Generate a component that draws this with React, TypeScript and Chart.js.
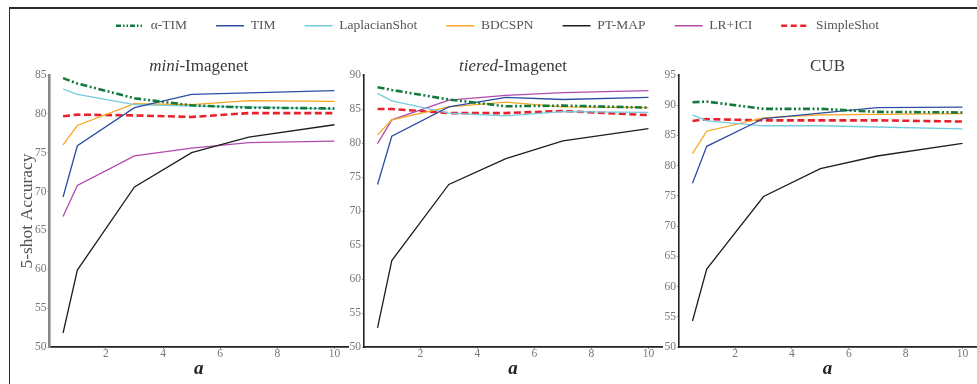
import React, { useEffect, useRef } from "react";
import { Chart, registerables } from "chart.js";

Chart.register(...registerables);

// ---------- data ----------
const alphaValues = [0.5, 1, 3, 5, 7, 10];
const methodNames = ["α-TIM", "TIM", "LaplacianShot", "BDCSPN", "PT-MAP", "LR+ICI", "SimpleShot"];

// mini-Imagenet
const miniAlphaTIM = [84.6, 83.9, 82.0, 81.1, 80.8, 80.7];
const miniTIM = [69.3, 75.9, 80.8, 82.5, 82.7, 83.0];
const miniLaplacian = [83.2, 82.5, 81.2, 81.0, 80.9, 80.6];
const miniBDCSPN = [76.0, 78.5, 81.3, 81.2, 81.7, 81.6];
const miniPTMAP = [51.8, 59.9, 70.6, 75.0, 77.0, 78.6];
const miniLRICI = [66.8, 70.8, 74.6, 75.6, 76.3, 76.5];
const miniSimpleShot = [79.7, 79.9, 79.8, 79.6, 80.1, 80.1];

// tiered-Imagenet
const tieredAlphaTIM = [88.2, 87.8, 86.4, 85.4, 85.5, 85.2];
const tieredTIM = [73.9, 81.0, 85.3, 86.7, 86.4, 86.7];
const tieredLaplacian = [87.3, 86.2, 84.4, 84.0, 84.6, 84.5];
const tieredBDCSPN = [81.2, 83.4, 85.3, 86.0, 85.3, 85.2];
const tieredPTMAP = [52.8, 62.7, 73.9, 77.7, 80.3, 82.1];
const tieredLRICI = [79.9, 83.4, 86.3, 87.0, 87.4, 87.7];
const tieredSimpleShot = [85.0, 85.0, 84.4, 84.4, 84.7, 84.1];

// CUB (no LR+ICI)
const cubAlphaTIM = [90.5, 90.6, 89.4, 89.4, 88.9, 88.8];
const cubTIM = [77.1, 83.2, 87.8, 88.7, 89.6, 89.7];
const cubLaplacian = [88.4, 87.4, 86.6, 86.6, 86.4, 86.1];
const cubBDCSPN = [82.0, 85.7, 87.9, 88.4, 88.5, 88.6];
const cubPTMAP = [54.3, 62.9, 74.9, 79.5, 81.6, 83.7];
const cubSimpleShot = [87.4, 87.7, 87.5, 87.5, 87.5, 87.3];

const xTicks = [2, 4, 6, 8, 10];
const miniYTicks = [50, 55, 60, 65, 70, 75, 80, 85];
const tieredYTicks = [50, 55, 60, 65, 70, 75, 80, 85, 90];
const cubYTicks = [50, 55, 60, 65, 70, 75, 80, 85, 90, 95];

// ---------- styles ----------
const SERIF = '"Liberation Serif", "DejaVu Serif", serif';

const seriesStyle: Record<string, any> = {
  "α-TIM": { color: "#137a3c", width: 2.6, legendWidth: 2.6, dash: [7, 2.5, 2, 2.5, 2, 2.5], legendDash: [5, 2, 1.5, 2, 1.5, 2] },
  "TIM": { color: "#2d4ea3", width: 1.3, legendWidth: 1.5, dash: [], legendDash: [] },
  "LaplacianShot": { color: "#74cbe0", width: 1.3, legendWidth: 1.5, dash: [], legendDash: [] },
  "BDCSPN": { color: "#f6a623", width: 1.3, legendWidth: 1.5, dash: [], legendDash: [] },
  "PT-MAP": { color: "#1e1e1e", width: 1.3, legendWidth: 1.5, dash: [], legendDash: [] },
  "LR+ICI": { color: "#b24aad", width: 1.3, legendWidth: 1.5, dash: [], legendDash: [] },
  "SimpleShot": { color: "#e8222c", width: 2.6, legendWidth: 2.6, dash: [7, 3.5], legendDash: [6, 3.5] },
};

function makeDataset(name: string, values: number[]) {
  const s = seriesStyle[name];
  return {
    label: name,
    data: values.map((v, i) => ({ x: alphaValues[i], y: v })),
    borderColor: s.color,
    backgroundColor: s.color,
    borderWidth: s.width,
    borderDash: s.dash,
    pointRadius: 0,
    tension: 0,
    fill: false,
  };
}

const titlePlugin = {
  id: "panelTitle",
  afterDraw(chart: any, _args: any, opts: any) {
    const { ctx, chartArea } = chart;
    const parts: { text: string; italic: boolean }[] = opts.parts || [];
    ctx.save();
    ctx.fillStyle = "#3a3a3a";
    ctx.textBaseline = "middle";
    const fonts = parts.map((p) => `${p.italic ? "italic " : ""}17px ${SERIF}`);
    const widths = parts.map((p, i) => {
      ctx.font = fonts[i];
      return ctx.measureText(p.text).width;
    });
    const total = widths.reduce((a, b) => a + b, 0);
    let x = (chartArea.left + chartArea.right) / 2 - total / 2;
    parts.forEach((p, i) => {
      ctx.font = fonts[i];
      ctx.textAlign = "left";
      ctx.fillText(p.text, x, opts.y);
      x += widths[i];
    });
    ctx.restore();
  },
};

type PanelCfg = {
  datasets: any[];
  yMin: number;
  yMax: number;
  yTicks: number[];
  yAxisWidth: number;
  padRight: number;
  yBorderColor: string;
  yBorderWidth: number;
  yTitle?: string;
  titleParts: { text: string; italic: boolean }[];
};

function buildPanel(canvas: HTMLCanvasElement, cfg: PanelCfg) {
  const tickFont = { family: SERIF, size: 11.5 };
  return new Chart(canvas, {
    type: "line",
    data: { datasets: cfg.datasets },
    plugins: [titlePlugin],
    options: {
      animation: false,
      responsive: false,
      devicePixelRatio: 1,
      layout: { padding: { top: 35, right: cfg.padRight, bottom: 0, left: 0 } },
      plugins: {
        legend: { display: false },
        tooltip: { enabled: false },
        panelTitle: { parts: cfg.titleParts, y: 27 },
      } as any,
      scales: {
        x: {
          type: "linear",
          min: 0.025,
          max: 10.475,
          afterBuildTicks: (scale: any) => {
            scale.ticks = xTicks.map((v) => ({ value: v }));
          },
          afterFit: (scale: any) => {
            scale.height = 37;
          },
          grid: { display: true, drawOnChartArea: false, drawTicks: true, tickLength: 2, color: "#888" },
          border: { display: true, color: "#222", width: 1.8 },
          ticks: { color: "#777", font: tickFont, padding: -2, maxRotation: 0 },
          title: {
            display: true,
            text: "a",
            color: "#222",
            font: { family: SERIF, size: 19, weight: "bold", style: "italic" },
            padding: { top: 0, bottom: 4 },
          },
        },
        y: {
          type: "linear",
          min: cfg.yMin,
          max: cfg.yMax,
          afterBuildTicks: (scale: any) => {
            scale.ticks = cfg.yTicks.map((v) => ({ value: v }));
          },
          afterFit: (scale: any) => {
            scale.width = cfg.yAxisWidth;
          },
          grid: { display: true, drawOnChartArea: false, drawTicks: true, tickLength: 2, color: "#999" },
          border: { display: true, color: cfg.yBorderColor, width: cfg.yBorderWidth },
          ticks: { color: "#777", font: tickFont, padding: 1 },
          title: cfg.yTitle
            ? {
                display: true,
                text: cfg.yTitle,
                color: "#555",
                font: { family: SERIF, size: 17.5 },
                padding: { top: 17, bottom: 0 },
              }
            : { display: false },
        },
      },
    } as any,
  });
}

function buildLegend(canvas: HTMLCanvasElement) {
  return new Chart(canvas, {
    type: "line",
    data: { datasets: methodNames.map((n) => makeDataset(n, [])) },
    options: {
      animation: false,
      responsive: false,
      devicePixelRatio: 1,
      layout: { padding: { top: 0, left: 18, right: 0, bottom: 0 } },
      plugins: {
        tooltip: { enabled: false },
        legend: {
          display: true,
          position: "top",
          labels: {
            usePointStyle: true,
            pointStyle: "line",
            pointStyleWidth: 28,
            boxHeight: 13,
            padding: 29,
            color: "#555",
            font: { family: SERIF, size: 13.5 },
            generateLabels: (chart: any) =>
              chart.data.datasets.map((ds: any, i: number) => {
                const s = seriesStyle[ds.label];
                return {
                  text: ds.label,
                  fillStyle: s.color,
                  strokeStyle: s.color,
                  fontColor: "#555",
                  lineWidth: s.legendWidth,
                  lineDash: s.legendDash,
                  lineCap: "butt",
                  pointStyle: "line",
                  hidden: false,
                  datasetIndex: i,
                };
              }),
          },
        },
      },
      scales: { x: { display: false }, y: { display: false } },
    } as any,
  });
}

export default function App() {
  const legendRef = useRef<HTMLCanvasElement>(null);
  const c1 = useRef<HTMLCanvasElement>(null);
  const c2 = useRef<HTMLCanvasElement>(null);
  const c3 = useRef<HTMLCanvasElement>(null);

  useEffect(() => {
    const charts: Chart[] = [];
    charts.push(
      buildPanel(c1.current!, {
        datasets: [
          makeDataset("α-TIM", miniAlphaTIM),
          makeDataset("TIM", miniTIM),
          makeDataset("LaplacianShot", miniLaplacian),
          makeDataset("BDCSPN", miniBDCSPN),
          makeDataset("PT-MAP", miniPTMAP),
          makeDataset("LR+ICI", miniLRICI),
          makeDataset("SimpleShot", miniSimpleShot),
        ],
        yMin: 50,
        yMax: 85,
        yTicks: miniYTicks,
        yAxisWidth: 49.5,
        padRight: 2,
        yBorderColor: "#8a8a8a",
        yBorderWidth: 2.6,
        yTitle: "5-shot Accuracy",
        titleParts: [
          { text: "mini", italic: true },
          { text: "-Imagenet", italic: false },
        ],
      })
    );
    charts.push(
      buildPanel(c2.current!, {
        datasets: [
          makeDataset("α-TIM", tieredAlphaTIM),
          makeDataset("TIM", tieredTIM),
          makeDataset("LaplacianShot", tieredLaplacian),
          makeDataset("BDCSPN", tieredBDCSPN),
          makeDataset("PT-MAP", tieredPTMAP),
          makeDataset("LR+ICI", tieredLRICI),
          makeDataset("SimpleShot", tieredSimpleShot),
        ],
        yMin: 50,
        yMax: 90,
        yTicks: tieredYTicks,
        yAxisWidth: 44,
        padRight: 3,
        yBorderColor: "#222",
        yBorderWidth: 1.6,
        titleParts: [
          { text: "tiered", italic: true },
          { text: "-Imagenet", italic: false },
        ],
      })
    );
    charts.push(
      buildPanel(c3.current!, {
        datasets: [
          makeDataset("α-TIM", cubAlphaTIM),
          makeDataset("TIM", cubTIM),
          makeDataset("LaplacianShot", cubLaplacian),
          makeDataset("BDCSPN", cubBDCSPN),
          makeDataset("PT-MAP", cubPTMAP),
          makeDataset("SimpleShot", cubSimpleShot),
        ],
        yMin: 50,
        yMax: 95,
        yTicks: cubYTicks,
        yAxisWidth: 39,
        padRight: 1,
        yBorderColor: "#222",
        yBorderWidth: 1.6,
        titleParts: [{ text: "CUB", italic: false }],
      })
    );
    charts.push(buildLegend(legendRef.current!));
    return () => charts.forEach((c) => c.destroy());
  }, []);

  const abs = (left: number, top: number, w: number, h: number): React.CSSProperties => ({
    position: "absolute",
    left,
    top,
    width: w,
    height: h,
  });

  return (
    <div
      style={{
        position: "fixed",
        left: 0,
        top: 0,
        width: 977,
        height: 384,
        overflow: "hidden",
        background: "#fff",
      }}
    >
      <div
        style={{
          position: "absolute",
          left: 9,
          top: 7,
          width: 1100,
          height: 500,
          borderLeft: "1.5px solid #2a2a2a",
          borderTop: "2px solid #2a2a2a",
        }}
      />
      <canvas ref={c1} width={350} height={344} style={abs(0, 40, 350, 344)} />
      <canvas ref={c2} width={345} height={344} style={abs(320, 40, 345, 344)} />
      <canvas ref={c3} width={337} height={344} style={abs(640, 40, 337, 344)} />
      <canvas
        ref={legendRef}
        width={977}
        height={160}
        style={{ ...abs(0, -10, 977, 160), pointerEvents: "none" }}
      />
    </div>
  );
}
